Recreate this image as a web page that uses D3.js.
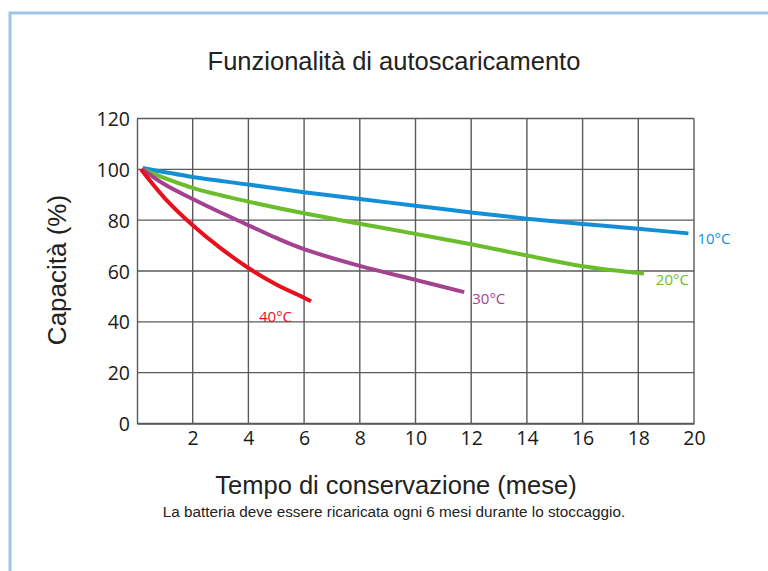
<!DOCTYPE html>
<html>
<head>
<meta charset="utf-8">
<script src="https://cdn.jsdelivr.net/npm/d3@7"></script>
<style>
  html, body { margin: 0; padding: 0; background: #fff; }
  svg { display: block; }
</style>
</head>
<body>
<svg id="chart" width="768" height="571"></svg>
<script>
// Self-discharge curves: remaining capacity (%) against storage time (months)
const monthTicks = [2, 4, 6, 8, 10, 12, 14, 16, 18, 20];
const capacityTicks = [0, 20, 40, 60, 80, 100, 120];

const months10 = [0.2, 2, 4, 6, 8, 10, 12, 14, 16, 18, 19.8];
const capacity10 = [100.5, 97, 94, 91, 88.3, 85.7, 83, 80.6, 78.5, 76.6, 74.8];

const months20 = [0.2, 2, 4, 6, 8, 10, 12, 14, 16, 18.2];
const capacity20 = [100, 92.7, 87.3, 82.7, 78.6, 74.6, 70.5, 66.1, 61.9, 59];

const months30 = [0.2, 1, 2, 3, 4, 5, 6, 8, 10, 11.75];
const capacity30 = [100, 94, 88.3, 83, 78, 73, 68.6, 62, 56.5, 51.7];

const months40 = [0.14, 1, 2, 3, 4, 5, 6, 6.25];
const capacity40 = [100, 88.6, 78, 69, 61.2, 54.7, 49.5, 48.1];

const seriesNames = ["10°C", "20°C", "30°C", "40°C"];
const seriesColors = ["#138fd8", "#6abd2b", "#a5428f", "#e8101c"];

const svg = d3.select("#chart");

// outer frame
svg.append("path")
  .attr("d", "M10,571 V13 H768")
  .attr("fill", "none")
  .attr("stroke", "#9fc5ec")
  .attr("stroke-width", 3);

const plot = { left: 137, right: 694, top: 118.5, bottom: 423.5 };

const x = d3.scaleLinear().domain([0, 20]).range([plot.left, plot.right]);
const y = d3.scaleLinear().domain([0, 120]).range([plot.bottom, plot.top]);

const tickFont = "'Open Sans', 'Noto Sans', sans-serif";
const textFont = "'Liberation Sans', Arial, sans-serif";

// grid
const grid = svg.append("g");
grid.selectAll(".vx")
  .data(monthTicks)
  .join("line")
  .attr("x1", d => x(d)).attr("x2", d => x(d))
  .attr("y1", plot.top).attr("y2", plot.bottom)
  .attr("stroke", "#5a5a5a").attr("stroke-width", 1.4);
grid.selectAll(".hy")
  .data(capacityTicks)
  .join("line")
  .attr("x1", plot.left).attr("x2", plot.right)
  .attr("y1", d => y(d)).attr("y2", d => y(d))
  .attr("stroke", "#5a5a5a").attr("stroke-width", 1.4);

// axes
const xAxis = svg.append("g")
  .attr("transform", `translate(0,${plot.bottom})`)
  .call(d3.axisBottom(x).tickValues(monthTicks).tickSize(0).tickPadding(8));
const yAxis = svg.append("g")
  .attr("transform", `translate(${plot.left},0)`)
  .call(d3.axisLeft(y).tickValues(capacityTicks).tickSize(0).tickPadding(7));
[xAxis, yAxis].forEach(a => {
  a.select(".domain").attr("stroke", "#5a5a5a").attr("stroke-width", 1.4);
  a.selectAll("text")
    .attr("font-family", tickFont)
    .attr("font-size", 19.5)
    .attr("font-weight", 500)
    .attr("fill", "#1a1a1a");
});
yAxis.selectAll("text").attr("dy", "0.36em");

// curves
const series = [
  { name: seriesNames[0], color: seriesColors[0], xs: months10, ys: capacity10, dx: 9, dy: 11, anchor: "start" },
  { name: seriesNames[1], color: seriesColors[1], xs: months20, ys: capacity20, dx: 12, dy: 11, anchor: "start" },
  { name: seriesNames[2], color: seriesColors[2], xs: months30, ys: capacity30, dx: 8, dy: 12, anchor: "start" },
  { name: seriesNames[3], color: seriesColors[3], xs: months40, ys: capacity40, dx: -19, dy: 21, anchor: "end" }
];

const line = d3.line()
  .x(d => x(d[0]))
  .y(d => y(d[1]))
  .curve(d3.curveCatmullRom.alpha(0.5));

series.forEach(s => {
  const pts = s.xs.map((m, i) => [m, s.ys[i]]);
  svg.append("path")
    .datum(pts)
    .attr("d", line)
    .attr("fill", "none")
    .attr("stroke", s.color)
    .attr("stroke-width", 4)
    .attr("stroke-linecap", "butt");
  const last = pts[pts.length - 1];
  svg.append("text")
    .attr("x", x(last[0]) + s.dx)
    .attr("y", y(last[1]) + s.dy)
    .attr("text-anchor", s.anchor)
    .attr("font-family", tickFont)
    .attr("font-size", 15)
    .attr("fill", s.color)
    .text(s.name);
});

// titles
svg.append("text")
  .attr("x", 394).attr("y", 70)
  .attr("text-anchor", "middle")
  .attr("font-family", textFont)
  .attr("font-size", 25.5)
  .attr("fill", "#222")
  .text("Funzionalità di autoscaricamento");

svg.append("text")
  .attr("x", 396).attr("y", 494)
  .attr("text-anchor", "middle")
  .attr("font-family", textFont)
  .attr("font-size", 25.5)
  .attr("fill", "#222")
  .text("Tempo di conservazione (mese)");

svg.append("text")
  .attr("x", 394).attr("y", 517)
  .attr("text-anchor", "middle")
  .attr("font-family", textFont)
  .attr("font-size", 15.3)
  .attr("fill", "#222")
  .text("La batteria deve essere ricaricata ogni 6 mesi durante lo stoccaggio.");

svg.append("text")
  .attr("transform", `translate(66,${y(60) - 1}) rotate(-90)`)
  .attr("text-anchor", "middle")
  .attr("font-family", textFont)
  .attr("font-size", 26)
  .attr("fill", "#222")
  .text("Capacità (%)");
</script>
</body>
</html>
